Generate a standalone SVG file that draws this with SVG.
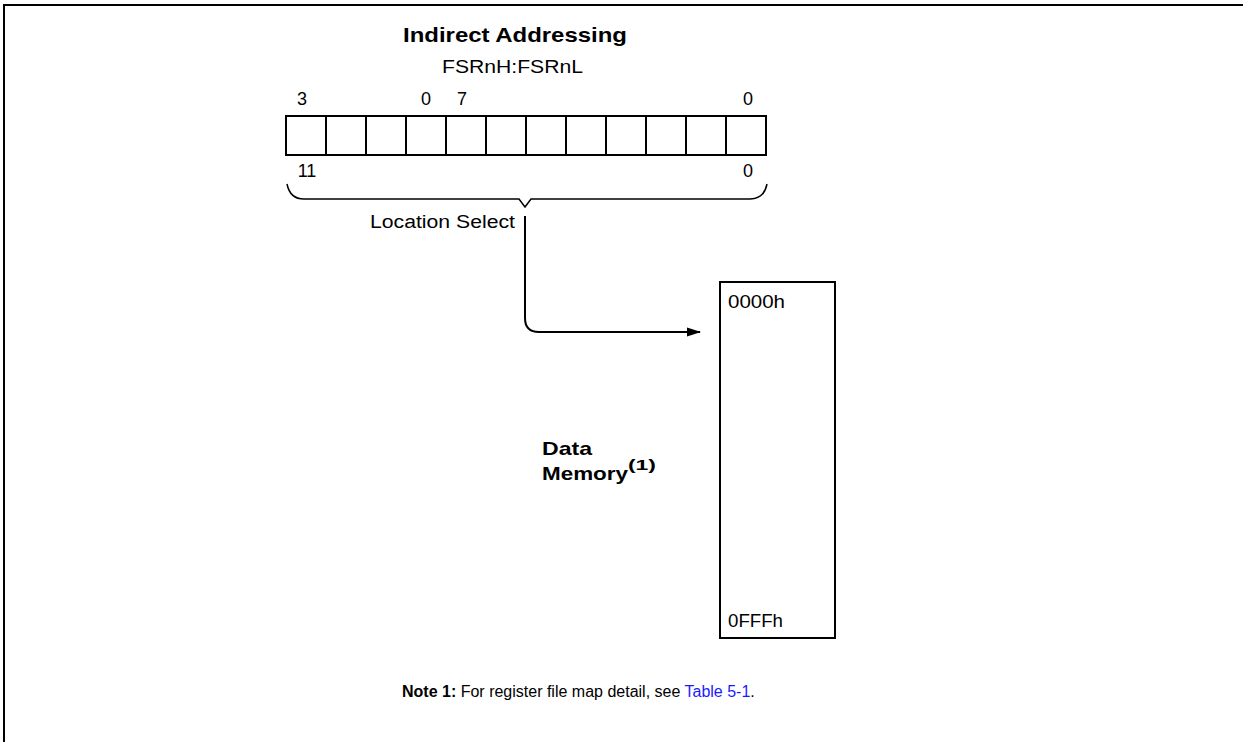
<svg xmlns="http://www.w3.org/2000/svg" width="1243" height="742" viewBox="0 0 1243 742">
<defs>
<style>
text{font-family:"Liberation Sans",Arial,sans-serif;fill:#000}
.r{font-size:18px}
.b{font-weight:bold}
.ln{fill:none;stroke:#000;stroke-width:2}
.thin{fill:none;stroke:#000;stroke-width:1.5}
.blue{fill:#1a1aff}
</style>
<marker id="ah" markerWidth="14" markerHeight="10" refX="13" refY="5" orient="auto" markerUnits="userSpaceOnUse">
<path d="M0,0.5 L14,5 L0,9.5 Z" fill="#000"/>
</marker>
</defs>
<rect width="1243" height="742" fill="#fff"/>
<path class="ln" d="M4,742 V5 H1243"/>

<g id="title">
<text class="b" x="403" y="42" font-size="21" textLength="224" lengthAdjust="spacingAndGlyphs">Indirect Addressing</text>
<text class="r" x="442" y="73" textLength="141" lengthAdjust="spacingAndGlyphs">FSRnH:FSRnL</text>
</g>

<g id="register">
<text class="r" x="302" y="105" text-anchor="middle">3</text>
<text class="r" x="426" y="105" text-anchor="middle">0</text>
<text class="r" x="462" y="105" text-anchor="middle">7</text>
<text class="r" x="748" y="105" text-anchor="middle">0</text>
<rect class="ln" x="286" y="116" width="480" height="39"/>
<path class="ln" d="M326,116V155M366,116V155M406,116V155M446,116V155M486,116V155M526,116V155M566,116V155M606,116V155M646,116V155M686,116V155M726,116V155"/>
<text class="r" x="307" y="177" text-anchor="middle">11</text>
<text class="r" x="748" y="177" text-anchor="middle">0</text>
</g>

<g id="brace">
<path class="thin" d="M287,184 Q290,199 304,199 H519 L525,207 L531,199 H750 Q764,199 767,184"/>
<text class="r" x="370" y="228" textLength="145" lengthAdjust="spacingAndGlyphs">Location Select</text>
</g>

<g id="memory">
<rect class="ln" x="720" y="282" width="115" height="356"/>
<text class="r" x="728" y="308" textLength="57" lengthAdjust="spacingAndGlyphs">0000h</text>
<text class="r" x="728" y="627" textLength="55" lengthAdjust="spacingAndGlyphs">0FFFh</text>
</g>

<g id="datamemory">
<text class="b" x="542" y="455" font-size="19" textLength="50" lengthAdjust="spacingAndGlyphs">Data</text>
<text class="b" x="542" y="480" font-size="19"><tspan textLength="86" lengthAdjust="spacingAndGlyphs">Memory</tspan><tspan font-size="15" dy="-10" textLength="28" lengthAdjust="spacingAndGlyphs">(1)</tspan></text>
</g>

<g id="connectors">
<path class="ln" d="M525,216 V318 Q525,332 539,332 H700" marker-end="url(#ah)"/>
</g>

<g id="note">
<text x="402" y="697" font-size="16"><tspan class="b">Note 1:</tspan> For register file map detail, see <tspan class="blue">Table 5-1</tspan>.</text>
</g>
</svg>
